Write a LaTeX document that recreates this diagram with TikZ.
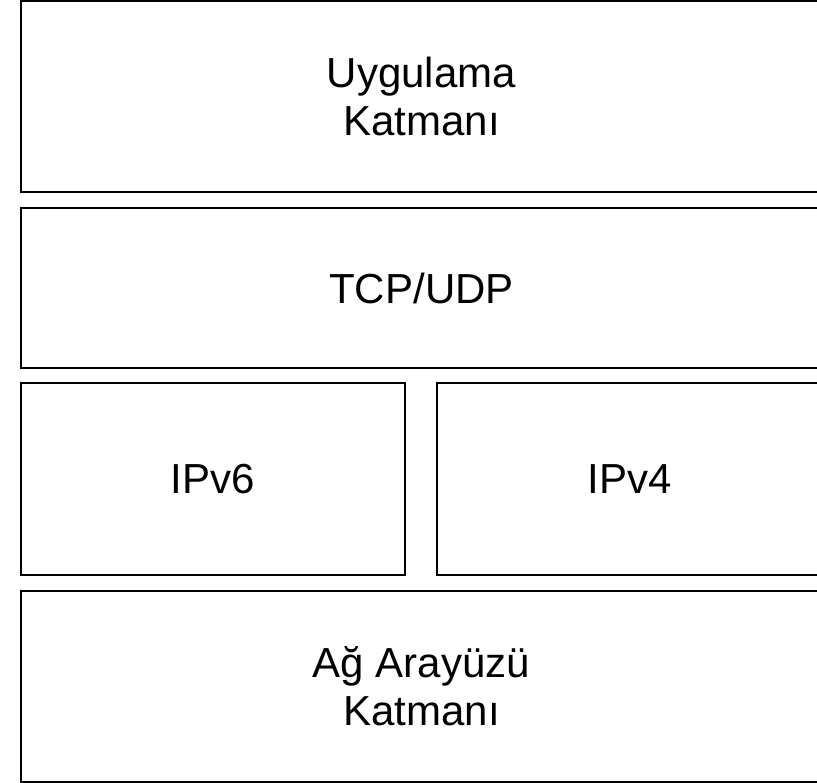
\documentclass[tikz,border=0pt]{standalone}
\usepackage{fontspec}
\setmainfont{Liberation Sans}
\begin{document}
\begin{tikzpicture}[x=1pt,y=-1pt,
  layer/.style={draw=black, line width=2pt, rectangle, anchor=north west,
    inner sep=0pt, outer sep=0pt, align=center,
    font=\fontsize{42}{48}\selectfont}]
  % page frame; the layers run past the right edge
  \clip (0,0) rectangle (817,783);
  \node[layer, minimum width=801pt, minimum height=191pt] (app) at (21,1)
    {Uygulama\\Katmanı};
  \node[layer, minimum width=801pt, minimum height=160pt] (tcp) at (21,208)
    {TCP/UDP};
  \node[layer, minimum width=384pt, minimum height=191.5pt] (ipv6) at (21,383.5)
    {IPv6};
  \node[layer, minimum width=385pt, minimum height=191.5pt] (ipv4) at (437,383.5)
    {IPv4};
  \node[layer, minimum width=801pt, minimum height=191pt] (net) at (21,591)
    {Ağ Arayüzü\\Katmanı};
\end{tikzpicture}
\end{document}
